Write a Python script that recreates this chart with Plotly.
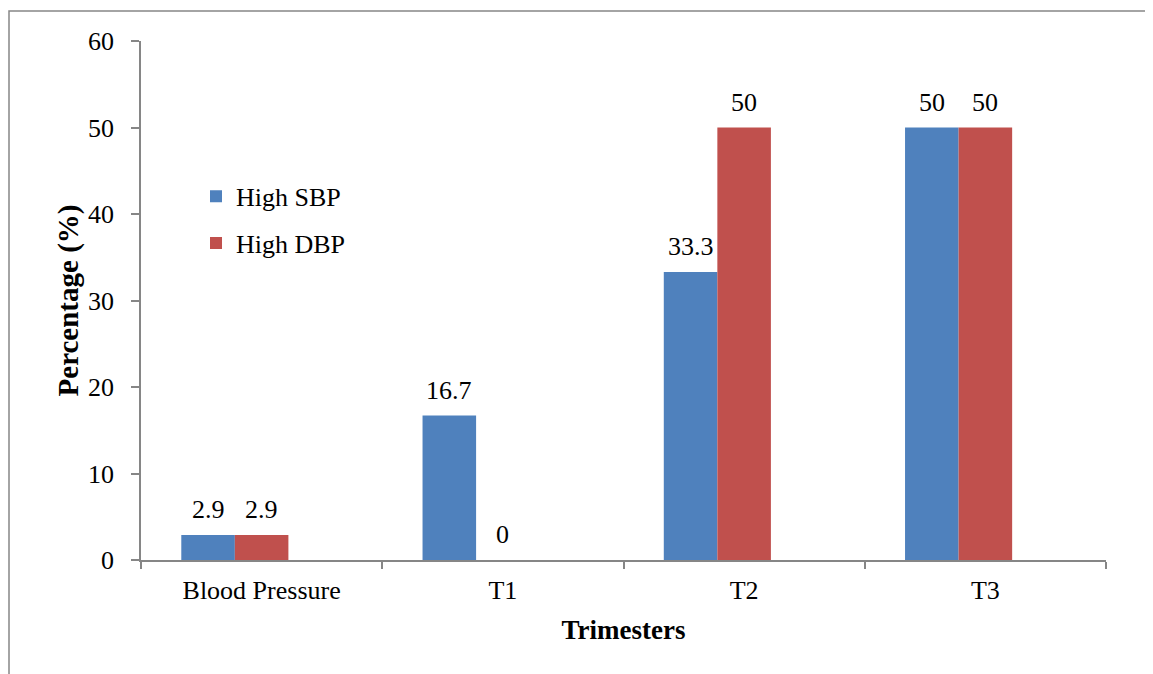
import plotly.graph_objects as go

categories = ["Blood Pressure", "T1", "T2", "T3"]
high_sbp = [2.9, 16.7, 33.3, 50]
high_dbp = [2.9, 0, 50, 50]
y_ticks = [0, 10, 20, 30, 40, 50, 60]

FONT = "Liberation Serif, Times New Roman, serif"
AXIS_COLOR = "#868686"
FS = 26
BAR_W = 0.222  # Excel layout leaves room for a third (empty) slot per group

series = [
    ("High SBP", high_sbp, "#4F81BD", -1.5 * BAR_W, "a"),
    ("High DBP", high_dbp, "#C0504D", -0.5 * BAR_W, "b"),
]

fig = go.Figure()
for name, vals, color, off, grp in series:
    fig.add_trace(go.Bar(
        x=categories, y=vals, name=name,
        width=BAR_W, offset=off,
        marker=dict(color=color, line=dict(width=0)),
        legendgroup=grp,
    ))
    # value labels above each bar
    for i, v in enumerate(vals):
        fig.add_annotation(
            x=i + off + BAR_W / 2, y=v, xref="x", yref="y",
            text=f"{v:g}", showarrow=False, yanchor="bottom", yshift=9,
            font=dict(family=FONT, size=FS, color="black"),
        )

fig.update_layout(
    width=1153, height=674,
    margin=dict(l=133, r=55, t=33, b=122),
    paper_bgcolor="white", plot_bgcolor="white",
    font=dict(family=FONT, size=FS, color="black"),
    barmode="group",
    showlegend=True,
    legend=dict(x=0.057, y=0.746, xanchor="left", yanchor="top",
                bgcolor="rgba(0,0,0,0)", font=dict(family=FONT, size=FS),
                tracegroupgap=10, itemwidth=30),
)
fig.update_xaxes(
    type="category", showline=True, linecolor=AXIS_COLOR, linewidth=1.5,
    ticks="outside", tickson="boundaries", ticklen=7, tickcolor=AXIS_COLOR,
    tickwidth=1.5, showgrid=False, zeroline=False,
    tickfont=dict(family=FONT, size=FS), ticklabelstandoff=6,
    title=dict(text="<b>Trimesters</b>", font=dict(family=FONT, size=27), standoff=16),
)
fig.update_yaxes(
    range=[0, 60], tickvals=y_ticks, showline=True, linecolor=AXIS_COLOR,
    linewidth=1.5, ticks="outside", ticklen=8, tickcolor=AXIS_COLOR,
    tickwidth=1.5, showgrid=False, zeroline=False,
    tickfont=dict(family=FONT, size=FS), ticklabelstandoff=12,
    title=dict(text="<b>Percentage (%)</b>", font=dict(family=FONT, size=29), standoff=1),
)
# chart-area border (Excel style), extends past the right and bottom edges
fig.add_shape(type="rect", xref="paper", yref="paper",
              x0=-132/965, x1=1.1, y0=-0.5, y1=1 + 30/519,
              line=dict(color=AXIS_COLOR, width=1.5), layer="below")

fig.write_html("out.html")
